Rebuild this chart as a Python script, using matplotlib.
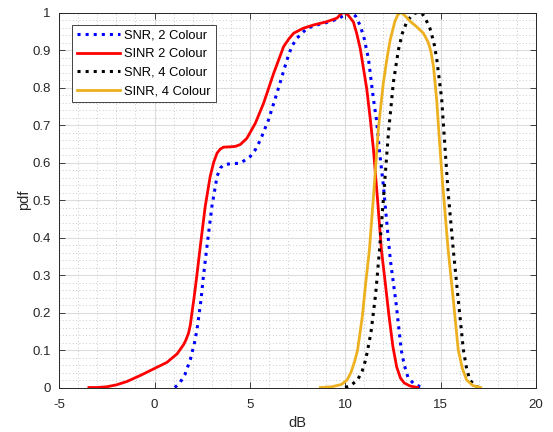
import matplotlib
matplotlib.use("Agg")
import matplotlib.pyplot as plt
from matplotlib.ticker import MultipleLocator

plt.rcParams['font.family'] = ['Liberation Sans', 'DejaVu Sans']
plt.rcParams['axes.unicode_minus'] = False

# SNR, 2 Colour (blue dotted)
snr2_x = [1.06, 1.3, 1.6, 1.88, 2.1, 2.23, 2.44, 2.55, 2.75, 3.01, 3.28, 3.45, 3.62, 4.0,
          4.5, 5.02, 5.3, 5.55, 5.98, 6.42, 6.95, 7.2, 7.48, 8.0, 8.6, 9.22, 9.7, 10.0,
          10.15, 10.26, 10.4, 10.55, 10.79, 11.0, 11.22, 11.48, 11.64, 11.8, 12.0, 12.2,
          12.37, 12.68, 12.94, 13.1, 13.3, 13.6, 13.9, 14.2]
snr2_y = [0.0, 0.01, 0.035, 0.075, 0.12, 0.155, 0.234, 0.29, 0.376, 0.483, 0.563, 0.585,
          0.594, 0.597, 0.598, 0.616, 0.635, 0.66, 0.714, 0.785, 0.874, 0.91, 0.932, 0.958,
          0.968, 0.976, 0.985, 0.995, 0.999, 1.0, 0.997, 0.99, 0.965, 0.93, 0.877, 0.77,
          0.714, 0.63, 0.54, 0.43, 0.34, 0.22, 0.10, 0.06, 0.026, 0.01, 0.003, 0.0]

# SINR 2 Colour (red solid)
sinr2_x = [-3.44, -3.0, -2.5, -2.0, -1.45, -0.75, 0.05, 0.65, 1.19, 1.52, 1.65, 1.79, 1.88,
           1.96, 2.06, 2.2, 2.4, 2.66, 2.92, 3.1, 3.28, 3.45, 3.62, 4.0, 4.24, 4.5, 4.85,
           5.29, 5.72, 6.25, 6.77, 7.05, 7.3, 7.8, 8.35, 9.0, 9.57, 9.75, 9.88, 10.05,
           10.2, 10.43, 10.6, 10.79, 11.13, 11.32, 11.48, 11.7, 11.9, 12.1, 12.3, 12.5,
           12.7, 12.9, 13.1, 13.4, 13.8]
sinr2_y = [0.0, 0.0, 0.002, 0.007, 0.016, 0.032, 0.052, 0.067, 0.09, 0.114, 0.127, 0.146,
           0.167, 0.198, 0.234, 0.29, 0.376, 0.483, 0.563, 0.6, 0.625, 0.636, 0.641, 0.642,
           0.643, 0.648, 0.665, 0.705, 0.758, 0.838, 0.909, 0.93, 0.945, 0.958, 0.967,
           0.975, 0.985, 0.995, 1.0, 0.998, 0.99, 0.975, 0.945, 0.904, 0.797, 0.714, 0.636,
           0.5, 0.367, 0.28, 0.19, 0.11, 0.055, 0.025, 0.012, 0.004, 0.0]

# SNR, 4 Colour (black dotted)
snr4_x = [10.0, 10.3, 10.65, 10.9, 11.08, 11.35, 11.6, 11.8, 12.0, 12.27, 12.53, 12.79,
          13.0, 13.23, 13.5, 13.7, 13.9, 14.05, 14.2, 14.45, 14.65, 14.8, 15.06, 15.18,
          15.4, 15.67, 15.93, 16.2, 16.37, 16.54, 16.8, 17.0]
snr4_y = [0.0, 0.006, 0.02, 0.045, 0.075, 0.146, 0.25, 0.367, 0.5, 0.68, 0.815, 0.90,
          0.945, 0.975, 0.993, 0.999, 1.0, 0.996, 0.985, 0.957, 0.92, 0.877, 0.77, 0.68,
          0.52, 0.367, 0.234, 0.10, 0.05, 0.02, 0.005, 0.0]

# SINR, 4 Colour (yellow solid)
sinr4_x = [8.7, 9.3, 9.8, 10.1, 10.3, 10.5, 10.65, 10.9, 11.08, 11.27, 11.5, 11.74, 12.0,
           12.2, 12.36, 12.6, 12.75, 12.88, 13.0, 13.2, 13.4, 13.75, 14.1, 14.36, 14.5,
           14.63, 14.8, 14.94, 15.1, 15.4, 15.67, 15.93, 16.15, 16.37, 16.7, 17.1]
sinr4_y = [0.0, 0.002, 0.008, 0.02, 0.04, 0.07, 0.10, 0.19, 0.28, 0.367, 0.52, 0.69, 0.812,
           0.88, 0.927, 0.975, 0.993, 1.0, 0.998, 0.988, 0.977, 0.962, 0.945, 0.92, 0.895,
           0.856, 0.767, 0.66, 0.55, 0.367, 0.234, 0.10, 0.05, 0.02, 0.005, 0.0]

labels = ["SNR, 2 Colour", "SINR 2 Colour", "SNR, 4 Colour", "SINR, 4 Colour"]
ytick_vals = [0, 0.1, 0.2, 0.3, 0.4, 0.5, 0.6, 0.7, 0.8, 0.9, 1]
ytick_text = ['0', '0.1', '0.2', '0.3', '0.4', '0.5', '0.6', '0.7', '0.8', '0.9', '1']

fig = plt.figure(figsize=(5.53, 4.32), dpi=100)
ax = fig.add_axes([0.107, 0.103, 0.862, 0.868])

ax.plot(snr2_x, snr2_y, ':', color='#0000FF', lw=2.2, label=labels[0])
ax.plot(sinr2_x, sinr2_y, '-', color='#FF0000', lw=2.0, label=labels[1])
ax.plot(snr4_x, snr4_y, ':', color='black', lw=2.2, label=labels[2])
ax.plot(sinr4_x, sinr4_y, '-', color='#EDB120', lw=2.0, label=labels[3])

ax.set_xlim(-5, 20)
ax.set_ylim(0, 1)
ax.xaxis.set_major_locator(MultipleLocator(5))
ax.xaxis.set_minor_locator(MultipleLocator(1))
ax.set_yticks(ytick_vals)
ax.set_yticklabels(ytick_text)
ax.yaxis.set_minor_locator(MultipleLocator(0.02))

ax.grid(True, which='major', color='#dcdcdc', lw=0.8, ls='-')
ax.grid(True, which='minor', color='#b8b8b8', lw=0.6, ls=(0, (1, 3)))
ax.set_axisbelow(True)

ax.tick_params(which='both', direction='in', top=True, right=True, colors='#262626',
               labelsize=9.5, labelcolor='#262626')
ax.tick_params(which='major', length=4, width=0.6)
ax.tick_params(which='minor', length=0)
ax.tick_params(axis='x', pad=8)
ax.tick_params(axis='y', pad=6)
for s in ax.spines.values():
    s.set_color('#262626')
    s.set_linewidth(0.7)

ax.set_xlabel("dB", fontsize=10.5, color='#262626', labelpad=4)
ax.set_ylabel("pdf", fontsize=10.5, color='#262626', labelpad=1)

leg = ax.legend(loc='upper left', bbox_to_anchor=(0.027, 0.968), fontsize=9.3,
                fancybox=False, framealpha=1, edgecolor='#262626', borderpad=0.4,
                handlelength=3.3, handletextpad=0.35, labelspacing=0.5, borderaxespad=0)
leg.get_frame().set_linewidth(0.6)

fig.savefig("out.png", dpi=100)
